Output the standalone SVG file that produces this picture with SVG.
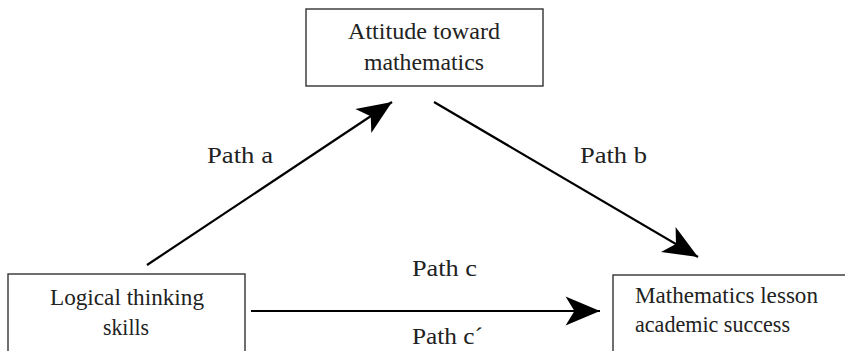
<svg xmlns="http://www.w3.org/2000/svg" width="845" height="351" viewBox="0 0 845 351">
<defs>
<style>
.box{fill:#fff;stroke:#333;stroke-width:1.4}
.t{font-family:"Liberation Serif","Times New Roman",serif;font-size:24px;fill:#222}
.c{stroke:#000;stroke-width:2.2;fill:none;marker-end:url(#ah)}
</style>
<marker id="ah" markerUnits="userSpaceOnUse" markerWidth="40" markerHeight="40" refX="0" refY="0" viewBox="-34 -15 36 30" orient="auto" overflow="visible">
<path d="M0,0 L-31,-13 L-23,0 L-31,13 Z" fill="#000"/>
</marker>
</defs>
<rect width="845" height="351" fill="#fff"/>
<g id="connectors">
<line class="c" x1="147" y1="265" x2="392" y2="102"/>
<line class="c" x1="434" y1="102" x2="698" y2="257"/>
<line class="c" x1="251" y1="311" x2="600" y2="311"/>
<text class="t" x="207" y="163" textLength="66" lengthAdjust="spacingAndGlyphs">Path a</text>
<text class="t" x="580" y="163" textLength="67" lengthAdjust="spacingAndGlyphs">Path b</text>
<text class="t" x="412" y="276" textLength="65" lengthAdjust="spacingAndGlyphs">Path c</text>
<text class="t" x="412" y="344" textLength="71" lengthAdjust="spacingAndGlyphs">Path c´</text>
</g>
<g id="attitude">
<rect class="box" x="306" y="9" width="237" height="77"/>
<text class="t" x="348" y="39" textLength="152" lengthAdjust="spacingAndGlyphs">Attitude toward</text>
<text class="t" x="364" y="70" textLength="120" lengthAdjust="spacingAndGlyphs">mathematics</text>
</g>
<g id="logical">
<rect class="box" x="8" y="274" width="237" height="90"/>
<text class="t" x="50" y="305" textLength="154" lengthAdjust="spacingAndGlyphs">Logical thinking</text>
<text class="t" x="103" y="335" textLength="46" lengthAdjust="spacingAndGlyphs">skills</text>
</g>
<g id="success">
<rect class="box" x="613" y="275" width="250" height="90"/>
<text class="t" x="635" y="303" textLength="183" lengthAdjust="spacingAndGlyphs">Mathematics lesson</text>
<text class="t" x="635" y="332" textLength="155" lengthAdjust="spacingAndGlyphs">academic success</text>
</g>
</svg>
